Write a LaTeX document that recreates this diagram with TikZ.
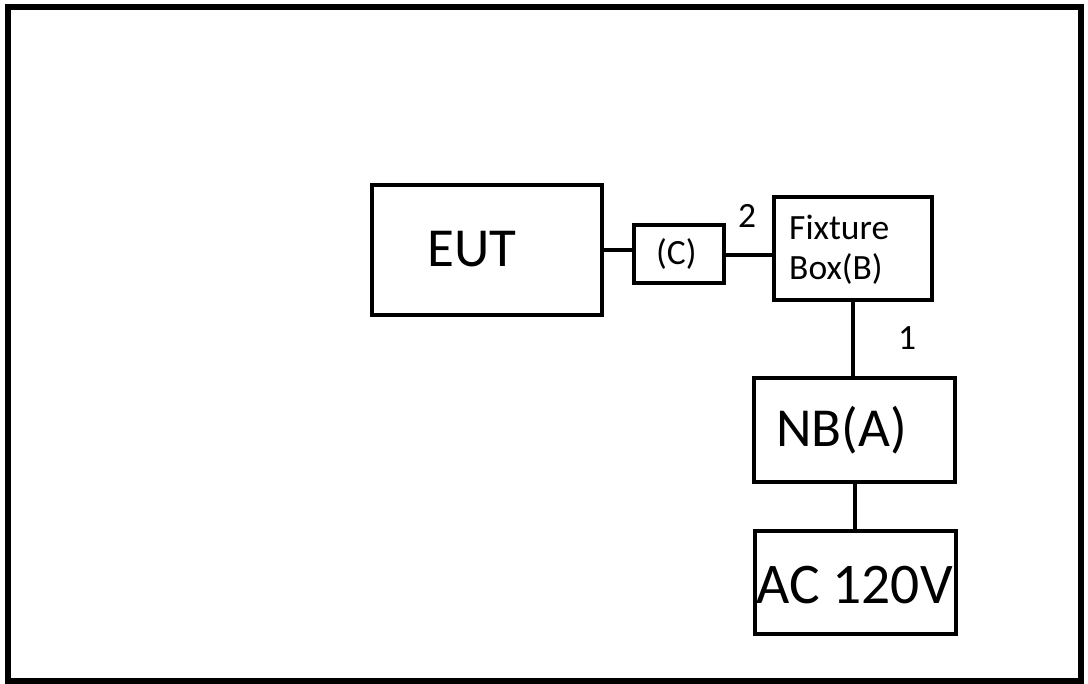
\documentclass[tikz,border=0pt]{standalone}
\usepackage{fontspec}
\setmainfont{Carlito}
\begin{document}
\begin{tikzpicture}[x=1pt,y=-1pt,
  box/.style={draw,line width=4.5pt,minimum width=#1,inner sep=0pt,outer sep=0pt},
  wire/.style={line width=4pt},
  big/.style={font=\fontsize{55}{60}\selectfont,inner sep=0pt,anchor=base west},
  small/.style={font=\fontsize{35.5}{38}\selectfont,inner sep=0pt,anchor=base west}]
\useasboundingbox (0,0) rectangle (1088,684);
\draw[line width=5.5pt] (8,7) rectangle (1081,681);
% boxes
\node[box=230pt,minimum height=130pt] (eut) at (487,250) {};
\node[box=90pt,minimum height=58pt] (c) at (679,254) {};
\node[box=158pt,minimum height=103pt] (b) at (853,248.5) {};
\node[box=201pt,minimum height=104pt] (nb) at (854.5,430) {};
\node[box=201pt,minimum height=103pt] (ac) at (855.5,582.5) {};
% texts
\node[big] (teut) at (427,267) {EUT};
\node[small] (tc) at (656,265) {(C)};
\node[small] (tb1) at (789,240) {Fixture};
\node[small] (tb2) at (789,280) {Box(B)};
\node[big] (tnb) at (776,447) {NB(A)};
\node[big,font=\fontsize{57.5}{60}\selectfont] (tac) at (756,603) {AC 120V};
\node[small] (t2) at (738,228) {2};
\node[small] (t1) at (898,350) {1};
% connectors
\draw[wire] (eut.east) -- (eut.east -| c.west);
\draw[wire] (c.east |- 0,255) -- (b.west |- 0,255);
\draw[wire] (b.south) -- (b.south |- nb.north);
\draw[wire] (nb.south) -- (nb.south |- ac.north);
\end{tikzpicture}
\end{document}
